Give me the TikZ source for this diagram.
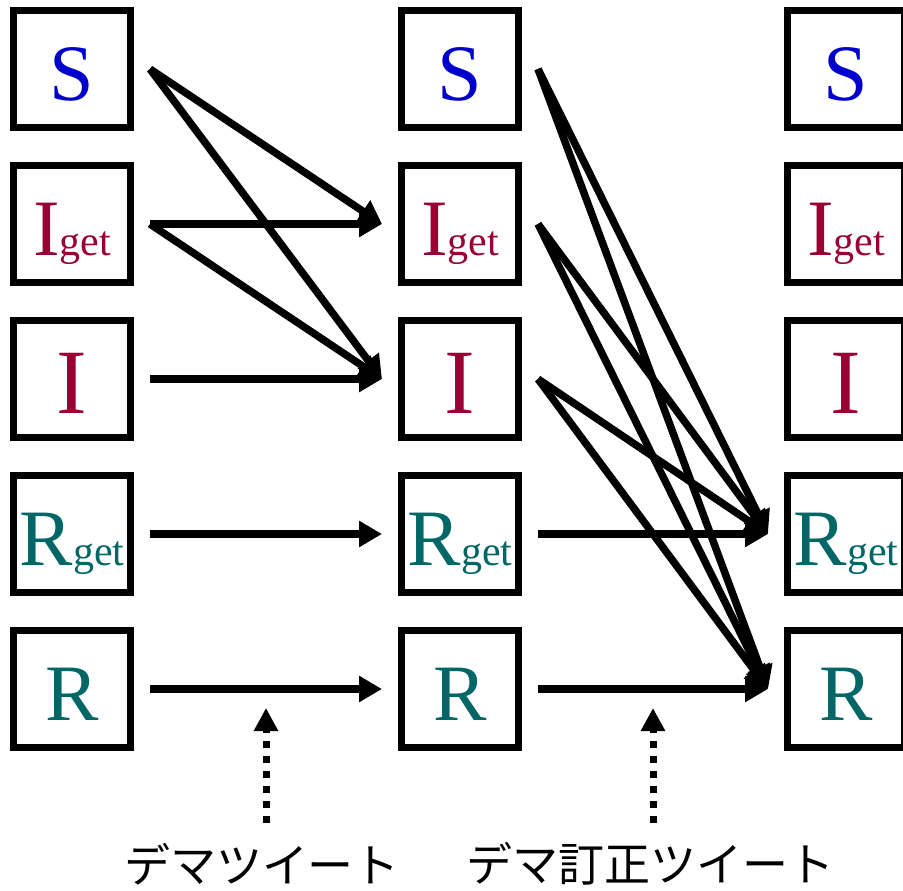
\documentclass[tikz,border=0pt]{standalone}
\usepackage{fontspec}
\newfontfamily\tmsfont{Liberation Serif}
\newfontfamily\jpfont{Noto Sans CJK JP}
\usetikzlibrary{arrows.meta}
\definecolor{sblue}{RGB}{0,0,204}
\definecolor{ired}{RGB}{153,0,51}
\definecolor{rteal}{RGB}{0,102,102}
\tikzset{state/.style = {shape=rectangle,draw,line width=7pt,minimum size=117pt,inner sep=0pt,outer sep=19.5pt,text height=62pt,text depth=0pt,font=\tmsfont\fontsize{80}{80}\selectfont}}
\tikzset{edge/.style = {-{Triangle[length=23pt,width=25pt]},line width=7.5pt}}
\tikzset{tweet/.style = {-{Triangle[length=23pt,width=23pt]},line width=7pt,dash pattern=on 7pt off 8pt}}
\tikzset{caption/.style = {inner sep=0pt,font=\jpfont\fontsize{46}{46}\selectfont}}
\newcommand{\getsub}{{\fontsize{42}{42}\selectfont get}}

\begin{document}
\begin{tikzpicture}[x=1pt,y=-1pt]
\useasboundingbox (0,0) rectangle (903,891);
% states, three time steps
\foreach \c/\x in {1/72,2/460,3/846} {
  \node[state,text=sblue] (s\c) at (\x,69) {S};
  \node[state,text=ired] (ig\c) at (\x,224) {I\getsub};
  \node[state,text=ired,text height=68pt,font=\tmsfont\fontsize{92}{92}\selectfont] (i\c) at (\x,379) {I};
  \node[state,text=rteal] (rg\c) at (\x,534) {R\getsub};
  \node[state,text=rteal] (r\c) at (\x,689) {R};
}

% transitions after the rumour tweet
\draw[edge] (s1.east) -- (ig2.west);
\draw[edge] (s1.east) -- (i2.west);
\draw[edge] (ig1.east) -- (ig2.west);
\draw[edge] (ig1.east) -- (i2.west);
\draw[edge] (i1.east) -- (i2.west);
\draw[edge] (rg1.east) -- (rg2.west);
\draw[edge] (r1.east) -- (r2.west);

% transitions after the correction tweet
\draw[edge] (s2.east) -- (rg3.west);
\draw[edge] (s2.east) -- (r3.west);
\draw[edge] (ig2.east) -- (rg3.west);
\draw[edge] (ig2.east) -- (r3.west);
\draw[edge] (i2.east) -- (rg3.west);
\draw[edge] (i2.east) -- (r3.west);
\draw[edge] (rg2.east) -- (rg3.west);
\draw[edge] (r2.east) -- (r3.west);

% tweets
\coordinate (d1) at (266,823);
\coordinate (t1) at (266,708);
\coordinate (d2) at (653,823);
\coordinate (t2) at (653,708);
\draw[tweet] (d1) -- (t1);
\draw[tweet] (d2) -- (t2);
\node[caption] (demo) at (262,864) {デマツイート};
\node[caption] (teisei) at (650,864) {デマ訂正ツイート};
\end{tikzpicture}
\end{document}
